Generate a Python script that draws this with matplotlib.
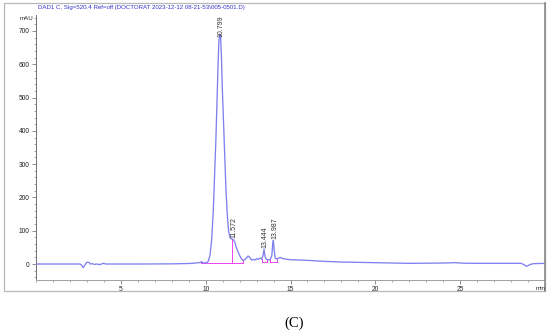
import numpy as np
import matplotlib
matplotlib.use("Agg")
import matplotlib.pyplot as plt
from matplotlib.patches import Rectangle
from matplotlib.ticker import MultipleLocator

# ---- data ----
time_min = [0, 2.6, 2.7, 2.78, 2.85, 2.95, 3.05, 3.12, 3.2, 3.3, 3.45, 3.6, 3.75, 3.9, 4.0, 4.1,
            4.5, 6.0, 8.0, 8.5, 9.0, 9.3, 9.6, 9.75, 9.9, 10.05, 10.15, 10.25, 10.35, 10.45,
            10.52, 10.6, 10.67, 10.73, 10.78, 10.83, 10.88, 10.93, 10.98, 11.05, 11.12, 11.2,
            11.27, 11.35, 11.42, 11.5, 11.57, 11.65, 11.72, 11.8, 11.9, 12.0, 12.1, 12.2, 12.3,
            12.4, 12.5, 12.6, 12.7, 12.8, 12.9, 13.0, 13.1, 13.2, 13.3, 13.38, 13.44, 13.5,
            13.58, 13.7, 13.8, 13.9, 13.95, 13.99, 14.03, 14.1, 14.2, 14.3, 14.4, 14.5, 14.7,
            15.0, 15.5, 16.0, 17.0, 18.0, 19.0, 20.0, 21.0, 22.0, 23.0, 24.0, 24.7, 25.2, 26.0,
            27.0, 28.0, 28.6, 28.8, 28.92, 29.1, 29.3, 30.0]
signal_mau = [0, 0, -4, -11, -6, 3, 6, 5, 0, 1, -1, 0, -2, 1, 2, 0,
              0, 0, 0.5, 1, 1.5, 2.5, 4, 6, 3, 4, 8, 25, 70, 160,
              260, 370, 490, 600, 670, 690, 680, 620, 530, 430, 330, 220,
              150, 100, 82, 76, 75, 72, 65, 50, 38, 26, 16, 11, 13,
              18, 24, 20, 12, 14, 12, 16, 14, 18, 15, 25, 45, 22,
              14, 12, 14, 25, 60, 71, 45, 17, 15, 18, 20, 17, 15,
              13, 12, 11, 8, 6, 5, 4, 3, 2, 2.5, 3, 4, 2.5, 2,
              2, 2, 2, -3, -7, -2, 1, 2]

peak_times = [10.799, 11.572, 13.444, 13.987]
peak_labels = ["10.799", "11.572", "13.444", "13.987"]

baseline_starts = [9.72, 13.30, 13.80]
baseline_ends = [12.18, 13.62, 14.20]
baseline_levels = [4, 5, 5]
drop_line_times = [11.572]

title = r"DAD1 C, Sig=520.4 Ref=off (DOCTORAT 2023-12-12 08-21-53\005-0501.D)"
caption = "(C)"

# ---- drawing ----
W, H = 550, 332
fig = plt.figure(figsize=(W / 100, H / 100), dpi=100)

# outer frame
fig.add_artist(Rectangle((4 / W, 1 - 291 / H), 541 / W, 288 / H, transform=fig.transFigure,
                         fill=False, edgecolor="#b8b8b8", linewidth=0.9))
fig.add_artist(plt.Line2D([545 / W, 545 / W], [1 - 291 / H, 1 - 3 / H], transform=fig.transFigure,
                          color="#8a8a8a", linewidth=1.2))

ax = fig.add_axes([36 / W, 1 - 280 / H, (545 - 36) / W, (280 - 15) / H])
ax.set_facecolor("none")

line_color = "#8080f0"
mag = "#ee44ee"
ax.plot(time_min, signal_mau, color=line_color, linewidth=0.95, zorder=3)

t_arr = np.array(time_min)
s_arr = np.array(signal_mau)

for xs, xe, lv in zip(baseline_starts, baseline_ends, baseline_levels):
    ax.plot([xs, xe], [lv, lv], color=mag, linewidth=0.7, zorder=2)
    for xx in (xs, xe):
        yv = np.interp(xx, t_arr, s_arr)
        ax.plot([xx, xx], [lv, max(yv, lv + 4)], color=mag, linewidth=0.7, zorder=2)
for xd in drop_line_times:
    yv = np.interp(xd, t_arr, s_arr)
    ax.plot([xd, xd], [baseline_levels[0], yv], color=mag, linewidth=0.7, zorder=2)

for pt, lab in zip(peak_times, peak_labels):
    yv = np.interp(pt, t_arr, s_arr)
    ax.text(pt + 0.08, yv + 4, lab, rotation=90, ha="center", va="bottom",
            fontsize=5.0, family="Liberation Sans", color="#333333", zorder=4)

ax.set_xlim(0, 30)
ax.set_ylim(-48, 748)
ax.xaxis.set_major_locator(MultipleLocator(5))
ax.xaxis.set_minor_locator(MultipleLocator(1))
ax.set_yticks(range(0, 701, 100))
ax.yaxis.set_minor_locator(MultipleLocator(20))
ax.set_xticks([5, 10, 15, 20, 25])

for sp in ("top", "right"):
    ax.spines[sp].set_visible(False)
ax.spines["left"].set_color("#707070")
ax.spines["bottom"].set_color("#a0a0a0")
ax.spines["left"].set_linewidth(0.7)
ax.spines["bottom"].set_linewidth(0.7)

ax.tick_params(axis="both", which="major", length=3, width=0.5, color="#606060",
               labelsize=4.8, pad=1.5, labelcolor="#222222")
ax.tick_params(axis="both", which="minor", length=1.5, width=0.4, color="#606060")
for lbl in ax.get_xticklabels() + ax.get_yticklabels():
    lbl.set_family("Liberation Sans")

fig.text(20 / W, 1 - 19 / H, "mAU", fontsize=4.4, family="Liberation Sans", color="#222222",
         ha="left", va="center")
fig.text(541 / W, 1 - 288 / H, "min", fontsize=4.4, family="Liberation Sans", color="#222222",
         ha="center", va="center")
fig.text(38 / W, 1 - 7 / H, title, fontsize=4.4, family="Liberation Sans", color="#3333cc",
         ha="left", va="center")
fig.text(294 / W, 1 - 323 / H, caption, fontsize=10.5, family="Liberation Serif", color="black",
         ha="center", va="center")

fig.savefig("out.png", dpi=100)
